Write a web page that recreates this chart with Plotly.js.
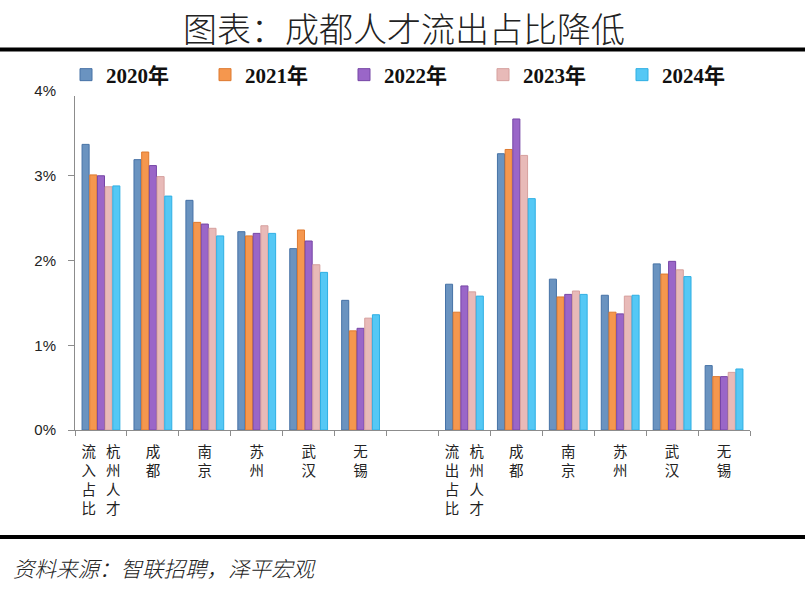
<!DOCTYPE html>
<html>
<head>
<meta charset="utf-8">
<script src="https://cdn.plot.ly/plotly-3.0.1.min.js"></script>
<style>
html,body{margin:0;padding:0;background:#fff;}
#chart{width:805px;height:595px;}
</style>
</head>
<body>
<div id="chart"></div>
<script>
// ---- data ----
var years = ["2020年", "2021年", "2022年", "2023年", "2024年"];
var cities = ["杭州", "成都", "南京", "苏州", "武汉", "无锡"];
var inflowLabels = ["流\u2002\u2009杭<br>入\u2002\u2009州<br>占\u2002\u2009人<br>比\u2002\u2009才", "成<br>都", "南<br>京", "苏<br>州", "武<br>汉", "无<br>锡"];
var outflowLabels = ["流\u2002\u2009杭<br>出\u2002\u2009州<br>占\u2002\u2009人<br>比\u2002\u2009才", "成<br>都", "南<br>京", "苏<br>州", "武<br>汉", "无<br>锡"];
// inflow share (%) by year, city order as above
var inflow2020 = [3.37, 3.19, 2.71, 2.34, 2.14, 1.53];
var inflow2021 = [3.01, 3.28, 2.45, 2.29, 2.36, 1.17];
var inflow2022 = [3.00, 3.12, 2.43, 2.32, 2.23, 1.20];
var inflow2023 = [2.87, 2.99, 2.38, 2.41, 1.95, 1.32];
var inflow2024 = [2.88, 2.76, 2.29, 2.32, 1.86, 1.36];
// outflow share (%)
var outflow2020 = [1.72, 3.26, 1.78, 1.59, 1.96, 0.76];
var outflow2021 = [1.39, 3.31, 1.57, 1.39, 1.84, 0.63];
var outflow2022 = [1.70, 3.67, 1.60, 1.37, 1.99, 0.63];
var outflow2023 = [1.63, 3.24, 1.64, 1.58, 1.89, 0.68];
var outflow2024 = [1.58, 2.73, 1.60, 1.59, 1.81, 0.72];

var colors = ["#6A93C0", "#F5974E", "#9A66C8", "#E8BAB8", "#55C8F5"];
var edges  = ["#4672A6", "#DE7A30", "#7646A6", "#D6A09E", "#2FAFE3"];

var inflowSeries = [inflow2020, inflow2021, inflow2022, inflow2023, inflow2024];
var outflowSeries = [outflow2020, outflow2021, outflow2022, outflow2023, outflow2024];

var inKeys = cities.map(function(c){ return "in_" + c; });
var outKeys = cities.map(function(c){ return "out_" + c; });
var gapKey = "gap";
var xKeys = inKeys.concat([gapKey], outKeys);
var tickText = inflowLabels.concat([""], outflowLabels);

var traces = years.map(function(y, i){
  return {
    type: "bar",
    name: y,
    x: xKeys,
    y: inflowSeries[i].concat([null], outflowSeries[i]),
    marker: {color: colors[i], line: {color: edges[i], width: 1}},
    hoverinfo: "y+name"
  };
});

// pixel -> paper helpers (plot area: x 75..750, y 91..430)
var L = 75, R = 55, T = 91, B = 165, W = 805, H = 595;
var pw = W - L - R, ph = H - T - B;
function px(x){ return (x - L) / pw; }
function py(y){ return (H - B - y) / ph; }

var layout = {
  width: W, height: H,
  margin: {l: L, r: R, t: T, b: B, pad: 0},
  paper_bgcolor: "#fff", plot_bgcolor: "#fff",
  barmode: "group", bargap: 0.26, bargroupgap: 0.08,
  showlegend: true,
  legend: {
    orientation: "h", x: px(66), y: py(75), xanchor: "left", yanchor: "middle",
    entrywidth: 94, entrywidthmode: "pixels",
    font: {family: "Liberation Serif, 'Noto Sans CJK SC', serif", size: 21, color: "#111", weight: "bold"},
    traceorder: "normal", itemclick: false
  },
  xaxis: {
    type: "category", categoryorder: "array", categoryarray: xKeys,
    tickmode: "array", tickvals: xKeys, ticktext: tickText,
    tickson: "boundaries", ticks: "outside", ticklen: 5, tickcolor: "#8c8c8c",
    ticklabelstandoff: 9,
    showline: true, linecolor: "#8c8c8c", linewidth: 1,
    showgrid: false, zeroline: false, fixedrange: true,
    tickfont: {family: "'Noto Sans CJK SC', sans-serif", size: 14.5, color: "#222"},
    tickangle: 0
  },
  yaxis: {
    range: [0, 4], dtick: 1, tick0: 0, ticksuffix: "%",
    ticks: "outside", ticklen: 6, tickcolor: "#8c8c8c",
    ticklabelstandoff: 9,
    showline: true, linecolor: "#8c8c8c", linewidth: 1,
    showgrid: false, zeroline: false, fixedrange: true,
    tickfont: {family: "'Liberation Sans', Arial, sans-serif", size: 15, color: "#222"}
  },
  annotations: [
    {text: "图表：成都人才流出占比降低", xref: "paper", yref: "paper", x: px(404), y: py(27),
     xanchor: "center", yanchor: "middle", showarrow: false,
     font: {family: "'Noto Sans CJK SC', sans-serif", size: 34, color: "#222", weight: 300}},
    {text: "<i>资料来源：智联招聘，泽平宏观</i>", xref: "paper", yref: "paper", x: px(11), y: py(567),
     xanchor: "left", yanchor: "middle", showarrow: false,
     font: {family: "'Noto Sans CJK SC', sans-serif", size: 21.5, color: "#222", weight: 300}}
  ],
  shapes: [
    {type: "line", xref: "paper", yref: "paper", x0: px(0), x1: px(805), y0: py(49.5), y1: py(49.5),
     line: {color: "#000", width: 4}},
    {type: "line", xref: "paper", yref: "paper", x0: px(0), x1: px(805), y0: py(537), y1: py(537),
     line: {color: "#000", width: 4}}
  ]
};

Plotly.newPlot("chart", traces, layout, {displayModeBar: false, staticPlot: true});
</script>
</body>
</html>
